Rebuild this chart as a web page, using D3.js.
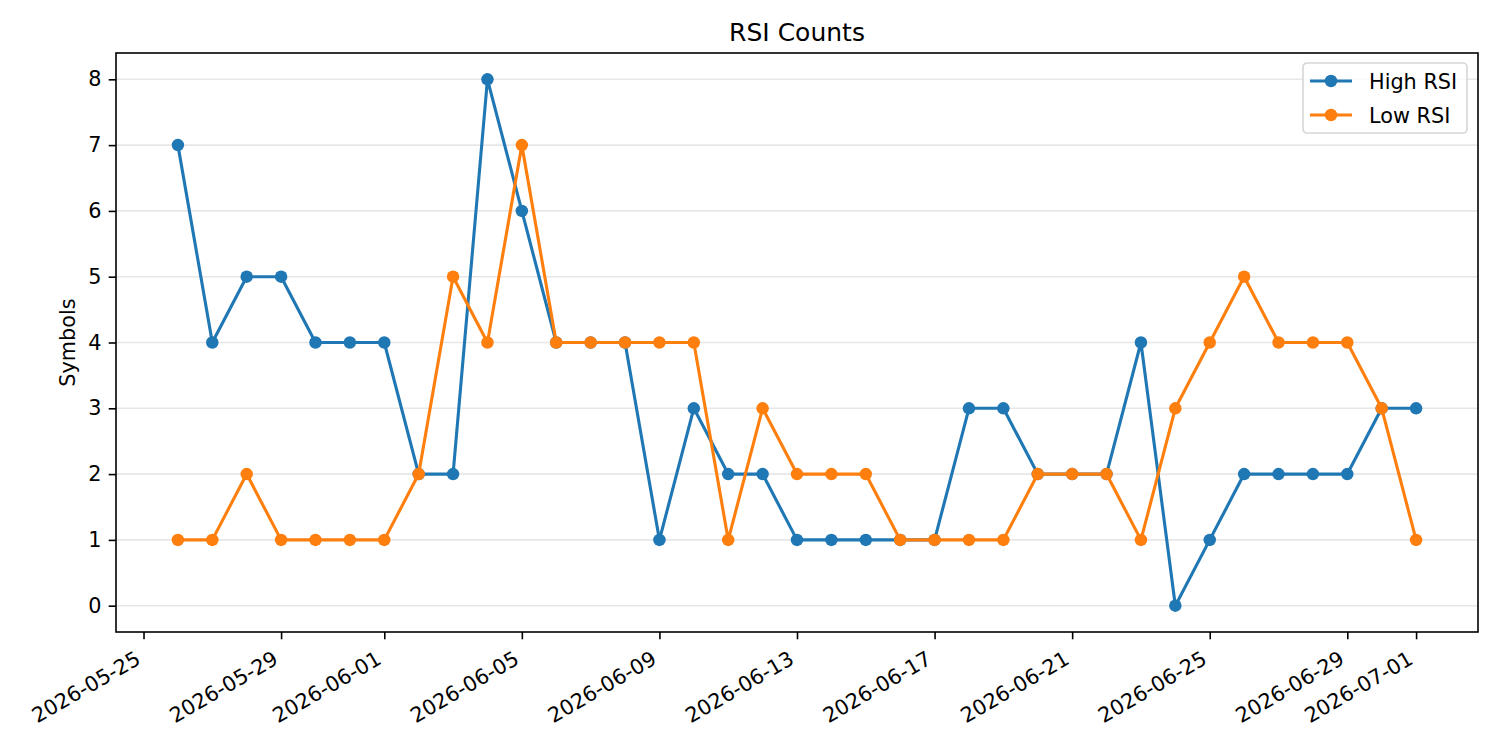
<!DOCTYPE html>
<html>
<head>
<meta charset="utf-8">
<script src="https://cdn.jsdelivr.net/npm/d3@7"></script>
<style>
  body { margin: 0; background: #fff; }
  svg, svg text { font-family: "DejaVu Sans", sans-serif; }
</style>
</head>
<body>
<div id="chart"></div>
<script>
var dates = ["2026-05-26","2026-05-27","2026-05-28","2026-05-29","2026-05-30","2026-05-31",
  "2026-06-01","2026-06-02","2026-06-03","2026-06-04","2026-06-05","2026-06-06","2026-06-07",
  "2026-06-08","2026-06-09","2026-06-10","2026-06-11","2026-06-12","2026-06-13","2026-06-14",
  "2026-06-15","2026-06-16","2026-06-17","2026-06-18","2026-06-19","2026-06-20","2026-06-21",
  "2026-06-22","2026-06-23","2026-06-24","2026-06-25","2026-06-26","2026-06-27","2026-06-28",
  "2026-06-29","2026-06-30","2026-07-01"];
var highRsi = [7,4,5,5,4,4,4,2,2,8,6,4,4,4,1,3,2,2,1,1,1,1,1,3,3,2,2,2,4,0,1,2,2,2,2,3,3];
var lowRsi  = [1,1,2,1,1,1,1,2,5,4,7,4,4,4,4,4,1,3,2,2,2,1,1,1,1,2,2,2,1,3,4,5,4,4,4,3,1];
var xTickLabels = ["2026-05-25","2026-05-29","2026-06-01","2026-06-05","2026-06-09","2026-06-13",
  "2026-06-17","2026-06-21","2026-06-25","2026-06-29","2026-07-01"];
var yTicks = [0,1,2,3,4,5,6,7,8];
var seriesNames = ["High RSI", "Low RSI"];
var seriesColors = ["#1f77b4", "#ff7f0e"];

var width = 1500, height = 750;
var margin = {top: 53, right: 22, bottom: 118, left: 116};

var parse = d3.utcParse("%Y-%m-%d");
var x0 = parse(dates[0]), x1 = parse(dates[dates.length - 1]);
var pad = (x1 - x0) * 0.05;

var x = d3.scaleUtc()
    .domain([new Date(+x0 - pad), new Date(+x1 + pad)])
    .range([margin.left, width - margin.right]);
var y = d3.scaleLinear()
    .domain([-0.4, 8.4])
    .range([height - margin.bottom, margin.top]);

const svg = d3.select("#chart").append("svg")
    .attr("width", width)
    .attr("height", height);

// grid
svg.append("g").selectAll("line")
    .data(yTicks)
    .join("line")
    .attr("x1", margin.left)
    .attr("x2", width - margin.right)
    .attr("y1", d => y(d))
    .attr("y2", d => y(d))
    .attr("stroke", "#b0b0b0")
    .attr("stroke-opacity", 0.3)
    .attr("stroke-width", 1.6);

// series
var series = [highRsi, lowRsi];
series.forEach((vals, i) => {
    var pts = vals.map((v, j) => ({date: parse(dates[j]), value: v}));
    var g = svg.append("g");
    g.append("path")
        .datum(pts)
        .attr("fill", "none")
        .attr("stroke", seriesColors[i])
        .attr("stroke-width", 3.1)
        .attr("stroke-linejoin", "round")
        .attr("d", d3.line().x(d => x(d.date)).y(d => y(d.value)));
    g.selectAll("circle")
        .data(pts)
        .join("circle")
        .attr("cx", d => x(d.date))
        .attr("cy", d => y(d.value))
        .attr("r", 6.25)
        .attr("fill", seriesColors[i]);
});

// axes
var xAxis = svg.append("g")
    .attr("transform", "translate(0," + (height - margin.bottom) + ")")
    .attr("font-family", "DejaVu Sans")
    .call(d3.axisBottom(x)
        .tickValues(xTickLabels.map(parse))
        .tickFormat(d3.utcFormat("%Y-%m-%d"))
        .tickSize(7.3)
        .tickSizeOuter(0));
xAxis.select(".domain").remove();
xAxis.selectAll("text")
    .attr("font-size", 20.8)
    .attr("fill", "#000")
    .attr("text-anchor", "end")
    .attr("dy", null)
    .attr("y", 0)
    .attr("transform", "translate(-2,31) rotate(-30)");
xAxis.selectAll("line").attr("stroke", "#000").attr("stroke-width", 1.6);

var yAxis = svg.append("g")
    .attr("transform", "translate(" + margin.left + ",0)")
    .attr("font-family", "DejaVu Sans")
    .call(d3.axisLeft(y)
        .tickValues(yTicks)
        .tickFormat(d3.format("d"))
        .tickSize(7.3)
        .tickPadding(7.3)
        .tickSizeOuter(0));
yAxis.select(".domain").remove();
yAxis.selectAll("text").attr("font-size", 20.8).attr("fill", "#000");
yAxis.selectAll("line").attr("stroke", "#000").attr("stroke-width", 1.6);

// frame
svg.append("rect")
    .attr("x", margin.left)
    .attr("y", margin.top)
    .attr("width", width - margin.left - margin.right)
    .attr("height", height - margin.top - margin.bottom)
    .attr("fill", "none")
    .attr("stroke", "#000")
    .attr("stroke-width", 1.6);

// title and label
svg.append("text")
    .text("RSI Counts")
    .attr("x", (margin.left + width - margin.right) / 2)
    .attr("y", margin.top - 12.5)
    .attr("text-anchor", "middle")
    .attr("font-size", 25);

svg.append("text")
    .text("Symbols")
    .attr("transform", "translate(75," + ((margin.top + height - margin.bottom) / 2) + ") rotate(-90)")
    .attr("text-anchor", "middle")
    .attr("font-size", 20.8);

// legend
var legend = svg.append("g").attr("transform", "translate(1303,63)");
legend.append("rect")
    .attr("width", 164)
    .attr("height", 70)
    .attr("rx", 4)
    .attr("fill", "#fff")
    .attr("fill-opacity", 0.8)
    .attr("stroke", "#d6d6d6")
    .attr("stroke-width", 1.6);
seriesNames.forEach((name, i) => {
    var ly = 18 + i * 34;
    legend.append("line")
        .attr("x1", 7).attr("x2", 49)
        .attr("y1", ly).attr("y2", ly)
        .attr("stroke", seriesColors[i])
        .attr("stroke-width", 3.1);
    legend.append("circle")
        .attr("cx", 28).attr("cy", ly).attr("r", 6.25)
        .attr("fill", seriesColors[i]);
    legend.append("text")
        .text(name)
        .attr("x", 66)
        .attr("y", ly + 7.5)
        .attr("font-size", 20.8);
});
</script>
</body>
</html>
